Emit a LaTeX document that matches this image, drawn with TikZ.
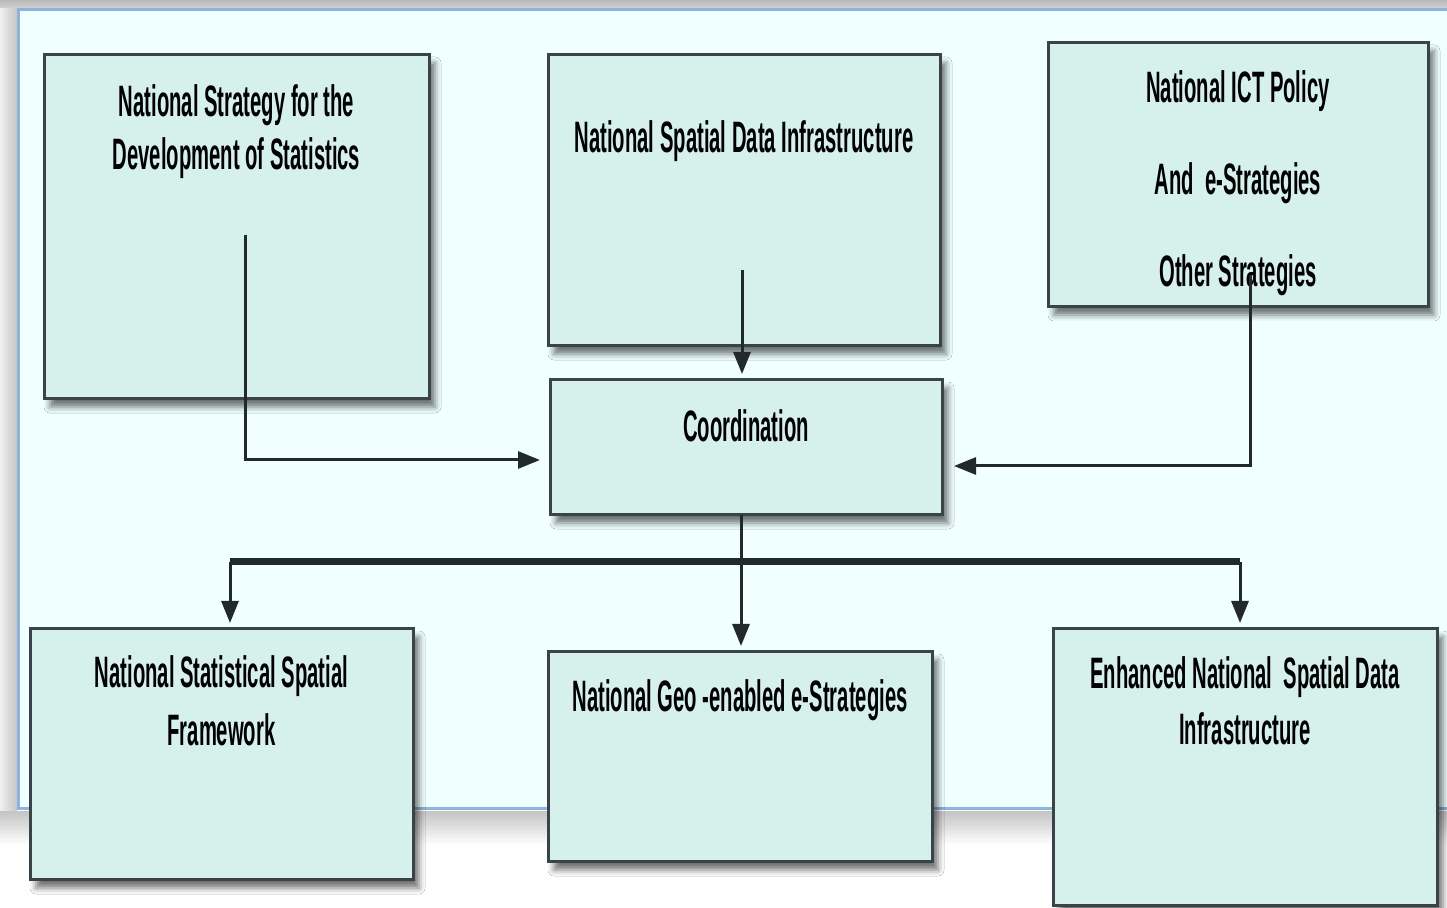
\documentclass[tikz,border=0pt]{standalone}
\usepackage{fontspec}
\newfontfamily\agency{Liberation Sans}[FakeStretch=0.46]
\usetikzlibrary{arrows.meta,shadows.blur}
\definecolor{boxfill}{HTML}{D6F0EB}
\definecolor{panel}{HTML}{F0FFFF}
\definecolor{panelline}{HTML}{8EB4DD}
\definecolor{edge}{HTML}{3A4448}
\definecolor{conncol}{HTML}{22292C}
\begin{document}
\begin{tikzpicture}[x=0.5pt,y=-0.5pt,
  box/.style={draw=edge, line width=1.5pt, fill=boxfill, rectangle, inner sep=0pt, outer sep=0pt, anchor=north west,
    blur shadow={shadow xshift=3pt, shadow yshift=-4pt, shadow blur radius=3pt, shadow opacity=55}},
  txt/.style={font=\agency\bfseries\fontsize{22}{#1}\selectfont, align=center, inner sep=0pt, anchor=base, text=black},
  txt/.default=27,
  conn/.style={draw=conncol, line width=1.5pt, -{Triangle[length=11pt,width=8.5pt]}, shorten >=3pt},
  bar/.style={draw=conncol, line width=3.5pt}]
\useasboundingbox (0,0) rectangle (1447,908);
\fill[white] (0,0) rectangle (1447,908);
% window chrome
\shade[top color=gray!55, bottom color=gray!35] (0,0) rectangle (1447,9);
\shade[left color=gray!12, right color=gray!45] (0,9) rectangle (17,812);
\shade[top color=gray!45, bottom color=white] (0,812) rectangle (1447,845);
\fill[panel] (17,9) rectangle (1447,810);
\draw[panelline, line width=1.5pt] (1447,10) -- (18,10) -- (18,809) -- (1447,809);
% boxes
\node[box, minimum width=192.5pt, minimum height=172pt] (nsds) at (44,55) {};
\node[box, minimum width=196pt, minimum height=145.5pt] (nsdi) at (548,55) {};
\node[box, minimum width=190pt, minimum height=132pt] (ict) at (1048,43) {};
\node[box, minimum width=196pt, minimum height=67.5pt] (coord) at (550,380) {};
\node[box, minimum width=191.5pt, minimum height=125.5pt] (nssf) at (30,629) {};
\node[box, minimum width=192pt, minimum height=105pt] (geo) at (548,652) {};
\node[box, minimum width=192pt, minimum height=138.5pt] (enh) at (1053,629) {};
% texts (base anchor = baseline of the last line)
\node[txt=26.5] (t1) at (236.5,170) {National Strategy for the\\Development of Statistics};
\node[txt] (t2) at (744,153) {National Spatial Data Infrastructure};
\node[txt=46] (t3) at (1238,287) {National ICT Policy\\And~ e-Strategies\\Other Strategies};
\node[txt] (t4) at (746,442) {Coordination};
\node[txt=29] (t5) at (221.5,746) {National Statistical Spatial\\Framework};
\node[txt] (t6) at (740,712) {National Geo -enabled e-Strategies};
\node[txt=28] (t7) at (1245,745) {Enhanced National~ Spatial Data\\Infrastructure};
% connectors
\coordinate (s1) at (245,235);
\coordinate (s2) at (742,270);
\coordinate (s3) at (1250,275);
\coordinate (cs) at (741,515);
\coordinate (b1) at (230,562);
\coordinate (b2) at (1240,562);
\draw[conn, shorten >=5pt] (s1) |- ([yshift=-6.25pt]coord.west);
\draw[conn] (s2) -- (s2 |- coord.north);
\draw[conn, shorten >=6pt] (s3) |- ([yshift=-9.25pt]coord.east);
\draw[conn] (cs) -- (cs |- geo.north);
\draw[bar] (b1) -- (b2);
\draw[conn] (b1) -- (b1 |- nssf.north);
\draw[conn] (b2) -- (b2 |- enh.north);
\end{tikzpicture}
\end{document}
